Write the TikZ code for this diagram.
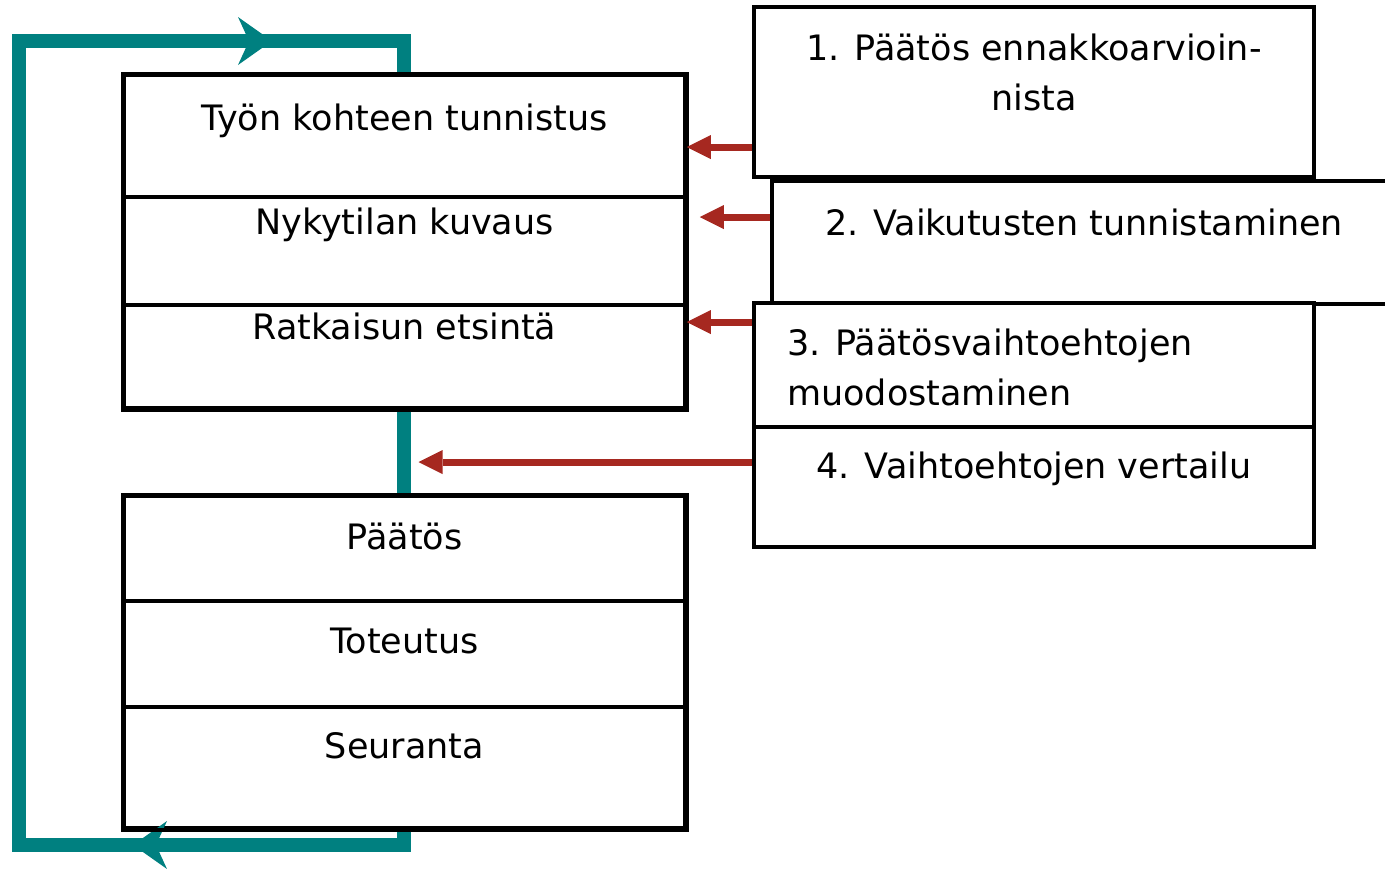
\documentclass[tikz,border=0pt]{standalone}
\usepackage{fontspec}
\setmainfont{DejaVu Sans}
\usetikzlibrary{arrows.meta}
\definecolor{loopteal}{RGB}{0,128,128}
\definecolor{arrred}{RGB}{166,40,32}
\tikzset{
  cell/.style={draw=black, line width=3.5pt, fill=white, rectangle, inner sep=0pt},
  lbl/.style={font=\fontsize{35}{50}\selectfont, inner sep=0pt, anchor=base},
  looppath/.style={draw=loopteal, line width=14pt},
  loophead/.style={draw=loopteal, line width=14pt, -{Stealth[length=34pt,width=48pt,inset=11pt,line width=0pt]}},
  feed/.style={draw=arrred, line width=7pt, -{Triangle[length=24pt,width=24pt,line width=0pt]}}
}
\begin{document}
\begin{tikzpicture}[x=1pt,y=-1pt]
\useasboundingbox (0,0) rectangle (1385,868);
\clip (0,0) rectangle (1385,868);
% loop coordinates
\coordinate (p1) at (404,845);
\coordinate (p2) at (19,845);
\coordinate (p3) at (19,41);
\coordinate (p4) at (404,41);
\coordinate (tipbot) at (133,845);
\coordinate (tiptop) at (272,41);
\coordinate (tailtop) at (235,41);
\coordinate (tailbot) at (170,845);
% cells (left)
\node[cell, minimum width=561pt, minimum height=122pt] (c1) at (404.5,136) {};
\node[cell, minimum width=561pt, minimum height=108pt] (c2) at (404.5,251) {};
\node[cell, minimum width=561pt, minimum height=103pt] (c3) at (404.5,356.5) {};
\node[cell, minimum width=561pt, minimum height=105pt] (d1) at (404.5,548.5) {};
\node[cell, minimum width=561pt, minimum height=106pt] (d2) at (404.5,654) {};
\node[cell, minimum width=561pt, minimum height=121pt] (d3) at (404.5,767.5) {};
% teal loop
\draw[looppath] ([xshift=-0.5pt]d3.south) -- (p1) -- (p2) -- (p3) -- (p4) -- ([xshift=-0.5pt]c1.north);
\draw[looppath] ([xshift=-0.5pt]c3.south) -- ([xshift=-0.5pt]d1.north);
\draw[loophead] (tailtop) -- (tiptop);
\draw[loophead] (tailbot) -- (tipbot);
% redraw cell borders on top of loop ends
\draw[line width=3.5pt] (c1.north west) rectangle (c3.south east);
\draw[line width=3.5pt] (d1.north west) rectangle (d3.south east);
% cells (right)
\node[cell, minimum width=560pt, minimum height=170pt] (r1) at (1034,92) {};
\node[cell, minimum width=624pt, minimum height=123pt] (r2) at (1084,242.5) {};
\node[cell, minimum width=560pt, minimum height=124pt] (r3) at (1034,365) {};
\node[cell, minimum width=560pt, minimum height=120pt] (r4) at (1034,487) {};
% feedback arrows
\draw[feed] ([yshift=-55pt]r1.west) -- ([yshift=-55pt]r1.west -| c1.east);
\draw[feed] ([yshift=25.5pt]r2.west) -- ([yshift=25.5pt,xshift=13pt]r2.west -| c1.east);
\draw[feed] ([yshift=43pt]r3.west) -- ([yshift=43pt]r3.west -| c3.east);
\draw[feed] ([yshift=25pt]r4.west) -- ([yshift=25pt,xshift=14pt]r4.west -| c3.south);
% texts
\node[lbl] (t1) at (404.5,130) {Työn kohteen tunnistus};
\node[lbl] (t2) at (404.5,234) {Nykytilan kuvaus};
\node[lbl] (t3) at (404.5,339) {Ratkaisun etsintä};
\node[lbl] (t4) at (404.5,549) {Päätös};
\node[lbl] (t5) at (404.5,653) {Toteutus};
\node[lbl] (t6) at (404.5,758) {Seuranta};
\node[lbl, align=center] (u1) at (1034,110) {1. Päätös ennakkoarvioin-\\nista};
\node[lbl] (u2) at (1084,235) {2. Vaikutusten tunnistaminen};
\node[lbl, anchor=base west, align=left] (u3) at (787,405) {3. Päätösvaihtoehtojen\\muodostaminen};
\node[lbl] (u4) at (1034,478) {4. Vaihtoehtojen vertailu};
\end{tikzpicture}
\end{document}
